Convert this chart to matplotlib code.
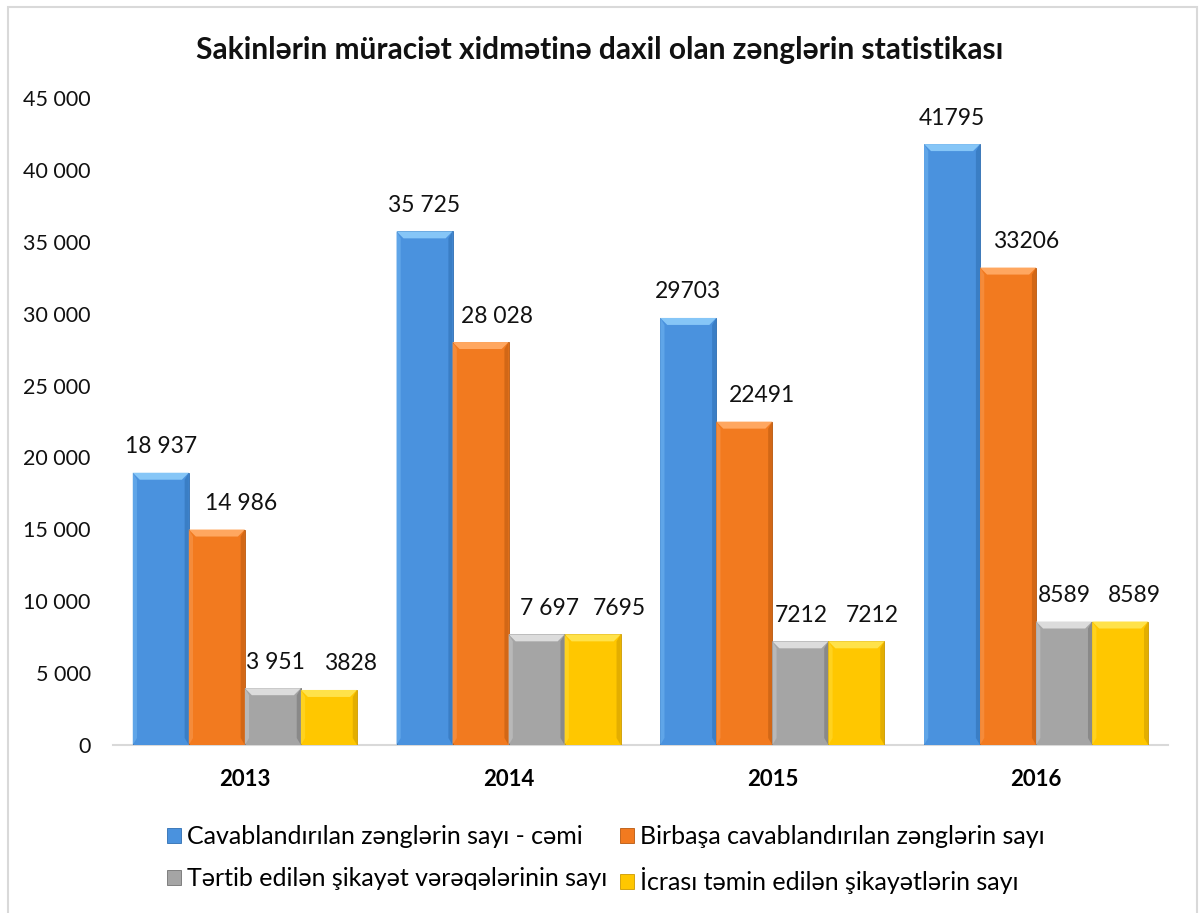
import matplotlib
matplotlib.use("Agg")
import matplotlib.pyplot as plt
from matplotlib.patches import Polygon, Rectangle
import numpy as np

plt.rcParams['font.family'] = ['Lato', 'Open Sans', 'DejaVu Sans']

years = ["2013", "2014", "2015", "2016"]
series_names = [
    "Cavablandırılan zənglərin sayı - cəmi",
    "Birbaşa cavablandırılan zənglərin sayı",
    "Tərtib edilən şikayət vərəqələrinin sayı",
    "İcrası təmin edilən şikayətlərin sayı",
]
answered_total = [18937, 35725, 29703, 41795]
answered_direct = [14986, 28028, 22491, 33206]
complaints_filed = [3951, 7697, 7212, 8589]
complaints_resolved = [3828, 7695, 7212, 8589]
labels_total = ["18 937", "35 725", "29703", "41795"]
labels_direct = ["14 986", "28 028", "22491", "33206"]
labels_filed = ["3 951", "7 697", "7212", "8589"]
labels_resolved = ["3828", "7695", "7212", "8589"]
yticks = [0, 5000, 10000, 15000, 20000, 25000, 30000, 35000, 40000, 45000]
ytick_labels = ["0", "5 000", "10 000", "15 000", "20 000", "25 000",
                "30 000", "35 000", "40 000", "45 000"]

title = "Sakinlərin müraciət xidmətinə daxil olan zənglərin statistikası"

# horizontal nudges (pixels) of the value labels, as placed in the original
label_nudge_px = [
    [0, 0, 0, 0],
    [24, 16, 18, 18],
    [3, 13, 1, 0],
    [22, 27, 16, 14],
]

# face, top-bevel, left-bevel, right-edge
palettes = [
    ("#4A92DE", "#86C6F7", "#5FA5E8", "#2E6EB2"),
    ("#F27A1F", "#FFA760", "#F58B3A", "#B8580F"),
    ("#A5A5A5", "#DCDCDC", "#B8B8B8", "#727272"),
    ("#FFC700", "#FFE24A", "#FFD21E", "#CC9A00"),
]

all_values = [answered_total, answered_direct, complaints_filed, complaints_resolved]
all_labels = [labels_total, labels_direct, labels_filed, labels_resolved]

W, H, DPI = 1200, 913, 100
fig = plt.figure(figsize=(W / DPI, H / DPI), dpi=DPI)
fig.patch.set_facecolor("white")

ax_left, ax_right, ax_bottom, ax_top = 113, 1168, 745, 98
ax = fig.add_axes([ax_left / W, 1 - ax_bottom / H, (ax_right - ax_left) / W,
                   (ax_bottom - ax_top) / H])

x = np.arange(len(years))
bw = 0.2125
offsets = (np.arange(4) - 1.5) * bw

ax.set_xlim(-0.5, len(years) - 0.5)
ax.set_ylim(0, 45000)

px_x = (ax_right - ax_left) / (len(years))  # px per x unit
px_y = (ax_bottom - ax_top) / 45000.0       # px per y unit
bev = 7.0
bx = bev / px_x
by = bev / px_y
pt = 72.0 / DPI  # points per pixel

handles = []
for i, (vals, labs, pal) in enumerate(zip(all_values, all_labels, palettes)):
    face, top, leftc, edge = pal
    bars = ax.bar(x + offsets[i], vals, width=bw, color=face,
                  edgecolor=edge, linewidth=0.6, label=series_names[i], zorder=2)
    handles.append(bars)
    for j, (rect, lab) in enumerate(zip(bars, labs)):
        x0 = rect.get_x()
        w = rect.get_width()
        h = rect.get_height()
        x1 = x0 + w
        ax.add_patch(Polygon([(x1 - bx * 0.6, by), (x1, 0), (x1, h), (x1 - bx * 0.6, h - by)],
                             closed=True, facecolor=edge, edgecolor="none", alpha=0.55, zorder=3))
        ax.add_patch(Polygon([(x0, 0), (x0 + bx * 0.6, by), (x0 + bx * 0.6, h - by), (x0, h)],
                             closed=True, facecolor=leftc, edgecolor="none", zorder=3))
        ax.add_patch(Polygon([(x0, h), (x1, h), (x1 - bx, h - by), (x0 + bx, h - by)],
                             closed=True, facecolor=top, edgecolor="none", zorder=3))
        ax.annotate(lab, (x0 + w / 2, h),
                    xytext=(label_nudge_px[i][j] * pt, 26 * pt), textcoords="offset points",
                    ha="center", va="center", fontsize=16.5, color="#111111")

ax.set_xticks(x)
ax.set_xticklabels(years, fontsize=16, fontweight="bold")
ax.set_yticks(yticks)
ax.set_yticklabels(ytick_labels, fontsize=15.5, color="#111111")
ax.tick_params(axis="x", length=0, pad=17)
ax.tick_params(axis="y", length=0, pad=16)
for s in ["top", "right", "left"]:
    ax.spines[s].set_visible(False)
ax.spines["bottom"].set_color("#D9D9D9")
ax.spines["bottom"].set_linewidth(1.5)
ax.spines["bottom"].set_zorder(1)

fig.text(0.5, 1 - 50 / H, title, ha="center", va="center",
         fontsize=21.5, fontweight="bold", color="#111111")

order = [0, 2, 1, 3]
leg = fig.legend([handles[k] for k in order], [series_names[k] for k in order],
                 loc="upper center",
                 bbox_to_anchor=(0.505, 1 - 803 / H), ncol=2, frameon=False,
                 fontsize=18, handlelength=0.55, handleheight=0.55,
                 handletextpad=0.25, columnspacing=0.5, labelspacing=0.75)

fig.add_artist(Rectangle((8 / W, -0.01), (1197 - 8) / W, 1 - 7 / H + 0.01,
                         transform=fig.transFigure, fill=False,
                         edgecolor="#D9D9D9", linewidth=1.5))

fig.savefig("out.png", dpi=DPI, facecolor="white")
